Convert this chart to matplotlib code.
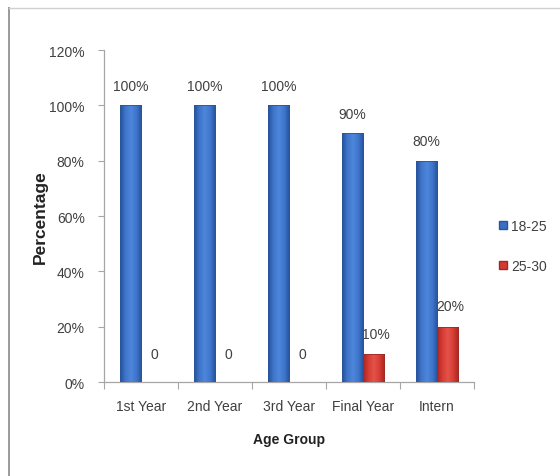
import matplotlib
matplotlib.use("Agg")
import matplotlib.pyplot as plt
from matplotlib.lines import Line2D
from matplotlib.colors import LinearSegmentedColormap
import numpy as np

categories = ["1st Year", "2nd Year", "3rd Year", "Final Year", "Intern"]
series_names = ["18-25", "25-30"]
age_18_25 = [100, 100, 100, 90, 80]
age_25_30 = [0, 0, 0, 10, 20]
labels_18_25 = ["100%", "100%", "100%", "90%", "80%"]
labels_25_30 = ["0", "0", "0", "10%", "20%"]
yticks = [0, 20, 40, 60, 80, 100, 120]

plt.rcParams["font.family"] = ["Liberation Sans Narrow", "Liberation Sans", "DejaVu Sans"]

BLUE = "#3a6ec2"
BLUE_EDGE = "#2a559c"
RED = "#d13b34"
RED_EDGE = "#9e2a24"
TXT = "#404040"
AX = "#a6a6a6"

blue_cmap = LinearSegmentedColormap.from_list("b", ["#24509a", "#3f76cc", "#4d86da", "#3f76cc", "#24509a"])
red_cmap = LinearSegmentedColormap.from_list("r", ["#a8261f", "#d63d35", "#e4534a", "#d63d35", "#a8261f"])

fig = plt.figure(figsize=(5.6, 4.77), dpi=100)
ax = fig.add_axes([0.186, 0.197, 0.66, 0.696])

x = np.arange(len(categories))
w = 0.285
grad = np.linspace(0, 1, 64).reshape(1, -1)


def shaded_bars(xs, heights, cmap, edge):
    bars = ax.bar(xs, heights, width=w, color="none", edgecolor=edge, linewidth=0.6, zorder=4)
    for b in bars:
        if b.get_height() <= 0:
            continue
        x0, y0 = b.get_x(), b.get_y()
        im = ax.imshow(grad, cmap=cmap, aspect="auto", zorder=3,
                       extent=[x0, x0 + b.get_width(), y0, y0 + b.get_height()])
        im.set_clip_path(b)
    return bars


shaded_bars(x - w / 2, age_18_25, blue_cmap, BLUE_EDGE)
shaded_bars(x + w / 2, age_25_30, red_cmap, RED_EDGE)

for xi, v, t in zip(x, age_18_25, labels_18_25):
    ax.annotate(t, (xi - w / 2, v), xytext=(0, 14), textcoords="offset points",
                ha="center", va="center", fontsize=10, color=TXT)
for xi, v, t in zip(x, age_25_30, labels_25_30):
    off = 20 if v == 0 else 15
    ax.annotate(t, (xi + w / 2, v), xytext=(2, off), textcoords="offset points",
                ha="center", va="center", fontsize=10, color=TXT)

ax.set_xlim(-0.5, len(categories) - 0.5)
ax.set_ylim(0, 120)
ax.set_yticks(yticks)
ax.set_yticklabels([f"{v}%" for v in yticks])
ax.set_xticks(np.arange(-0.5, len(categories)), minor=False)
ax.set_xticklabels([])
ax.set_xticks(x, minor=True)
ax.set_xticklabels(categories, minor=True)
ax.tick_params(axis="x", which="major", length=5, color=AX, direction="out")
ax.tick_params(axis="x", which="minor", length=0, pad=12, labelsize=10, labelcolor=TXT)
ax.tick_params(axis="y", length=4, color=AX, direction="out", pad=10, labelsize=10, labelcolor=TXT)

for s in ["top", "right"]:
    ax.spines[s].set_visible(False)
for s in ["left", "bottom"]:
    ax.spines[s].set_color(AX)
    ax.spines[s].set_linewidth(0.9)

ax.set_xlabel("Age Group", fontsize=10, fontweight="bold", color="#222222", labelpad=14)
ax.set_ylabel("Percentage", fontsize=12.5, fontweight="bold", color="#222222", labelpad=1)

handles = [Line2D([0], [0], marker="s", linestyle="none", markersize=6,
                  markerfacecolor=BLUE, markeredgecolor=BLUE_EDGE),
           Line2D([0], [0], marker="s", linestyle="none", markersize=6,
                  markerfacecolor=RED, markeredgecolor=RED_EDGE)]
fig.legend(handles, series_names, loc="center left", bbox_to_anchor=(0.866, 0.482),
           frameon=False, fontsize=10, labelspacing=1.9, handletextpad=0.2,
           handlelength=0.8, labelcolor=TXT)

# outer frame
fig.add_artist(Line2D([0.016, 0.016], [0.0, 0.982], transform=fig.transFigure,
                      color="#9a9a9a", linewidth=1.4))
fig.add_artist(Line2D([0.016, 1.0], [0.981, 0.981], transform=fig.transFigure,
                      color="#d0d0d0", linewidth=1.0))

fig.savefig("out.png", dpi=100, facecolor="white")
